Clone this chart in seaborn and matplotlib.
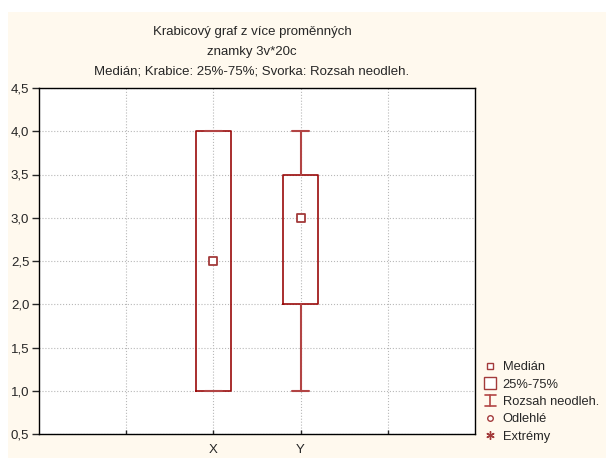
import numpy as np
import pandas as pd
import seaborn as sns
import matplotlib
matplotlib.use('Agg')
import matplotlib.pyplot as plt
from matplotlib.lines import Line2D
from matplotlib.patches import Rectangle
from matplotlib.legend_handler import HandlerBase
from matplotlib.ticker import FixedLocator, FuncFormatter

# summary values
variables = ['X', 'Y']
medians = [2.5, 3.0]
q1 = [1.0, 2.0]
q3 = [4.0, 3.5]
whisker_lo = [1.0, 1.0]
whisker_hi = [4.0, 4.0]

title_lines = ['Krabicový graf z více proměnných', 'znamky 3v*20c',
               'Medián; Krabice: 25%-75%; Svorka: Rozsah neodleh.']
legend_labels = ['Medián', '25%-75%', 'Rozsah neodleh.', 'Odlehlé', 'Extrémy']

box_red = '#9a0a0a'
whisk_red = '#b24444'
cream = '#fff9ee'

sns.set_style('white')
plt.rcParams['font.family'] = ['Liberation Sans', 'DejaVu Sans']

fig = plt.figure(figsize=(6.06, 4.58), dpi=100, facecolor='white')
fig.patches.append(Rectangle((8 / 606, 0), 1, 1 - 12 / 458, transform=fig.transFigure,
                             facecolor=cream, edgecolor='none', zorder=-10))
ax = fig.add_axes([39 / 606, 1 - 434 / 458, 436 / 606, 346 / 458])
ax.set_facecolor('white')

positions = np.arange(len(variables)) + 2
stats = []
for i, name in enumerate(variables):
    stats.append({'label': name, 'med': medians[i], 'q1': q1[i], 'q3': q3[i],
                  'whislo': whisker_lo[i], 'whishi': whisker_hi[i], 'fliers': []})

ax.bxp(stats, positions=positions, widths=0.4, showfliers=False,
       medianprops={'linewidth': 0},
       boxprops={'color': box_red, 'linewidth': 1.2},
       whiskerprops={'color': whisk_red, 'linewidth': 1.5},
       capprops={'color': whisk_red, 'linewidth': 1.5},
       capwidths=0.2, manage_ticks=False)

df = pd.DataFrame({'pos': positions, 'median': medians})
sns.scatterplot(data=df, x='pos', y='median', marker='s', s=28, facecolor='white',
                edgecolor='#a33a3a', linewidth=1.3, ax=ax, zorder=5)

ax.set_xlim(0, 5)
ax.set_ylim(0.5, 4.5)
ax.set_xlabel('')
ax.set_ylabel('')
ax.xaxis.set_major_locator(FixedLocator([1, 2, 3, 4]))
ax.set_xticklabels(['', 'X', 'Y', ''])
ax.set_yticks(np.arange(0.5, 4.51, 0.5))
ax.yaxis.set_major_formatter(FuncFormatter(lambda v, p: f'{v:.1f}'.replace('.', ',')))
ax.tick_params(axis='y', direction='out', length=5, width=1, labelsize=9.5, pad=2, left=True)
ax.tick_params(axis='x', direction='in', length=3, width=1, labelsize=9.5, pad=7, bottom=True)
ax.grid(True, color='#b8b8b8', linestyle=':', linewidth=0.8)
ax.set_axisbelow(True)
for sp in ax.spines.values():
    sp.set_color('black')
    sp.set_linewidth(1.0)

for k, line in enumerate(title_lines):
    fig.text(252 / 606, 1 - (32 + 19.5 * k) / 458, line, ha='center', va='center', fontsize=9.5)


class WhiskerHandler(HandlerBase):
    def create_artists(self, legend, orig_handle, xd, yd, width, height, fontsize, trans):
        cx = xd + width / 2
        lo, hi = yd - 1, yd + height + 1
        c = whisk_red
        arts = [Line2D([cx, cx], [lo, hi], color=c, lw=1.2),
                Line2D([cx - 4, cx + 4], [lo, lo], color=c, lw=1.2),
                Line2D([cx - 4, cx + 4], [hi, hi], color=c, lw=1.2)]
        for a in arts:
            a.set_transform(trans)
        return arts


h_med = Line2D([], [], marker='s', ls='none', markersize=4.5, markerfacecolor='white',
               markeredgecolor='#a33a3a', markeredgewidth=1.0)
h_box = Line2D([], [], marker='s', ls='none', markersize=9, markerfacecolor='white',
               markeredgecolor='#a33a3a', markeredgewidth=1.0)
h_whisk = Line2D([], [])
h_out = Line2D([], [], marker='o', ls='none', markersize=4, markerfacecolor='white',
               markeredgecolor='#a33a3a', markeredgewidth=1.0)
h_ext = Line2D([], [], marker=(6, 2, 0), ls='none', markersize=6,
               markeredgecolor='#a33a3a', markeredgewidth=1.0)

fig.legend([h_med, h_box, h_whisk, h_out, h_ext], legend_labels,
           handler_map={h_whisk: WhiskerHandler()},
           loc='upper left', bbox_to_anchor=(484 / 606, 1 - 361 / 458),
           frameon=False, fontsize=9.3, handlelength=1.0, handletextpad=0.45,
           labelspacing=0.42, borderpad=0, borderaxespad=0)

fig.savefig('out.png', dpi=100, facecolor=fig.get_facecolor())
